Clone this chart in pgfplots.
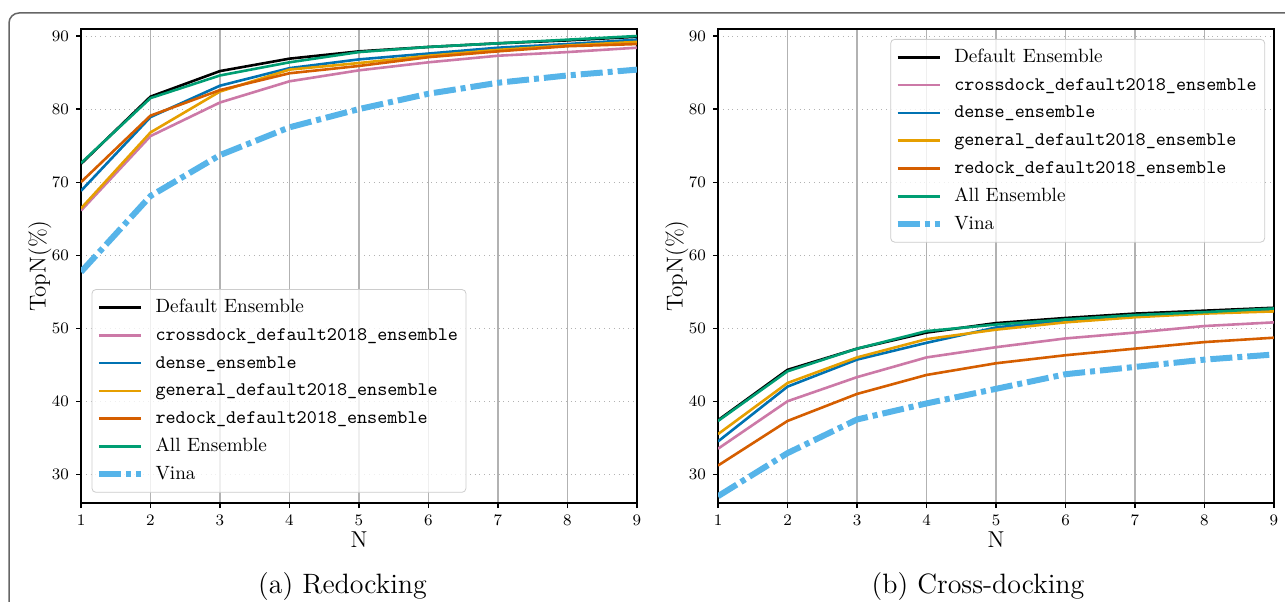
\documentclass[border=0pt]{standalone}
\usepackage{pgfplots}
\usepackage{pgfplotstable}
\pgfplotsset{compat=1.18}
\definecolor{cpink}{HTML}{CC79A7}
\definecolor{cblue}{HTML}{0072B2}
\definecolor{corange}{HTML}{E69F00}
\definecolor{cverm}{HTML}{D55E00}
\definecolor{cgreen}{HTML}{009E73}
\definecolor{csky}{HTML}{56B4E9}
\definecolor{frameg}{HTML}{666666}

\pgfplotstableread{
N def cross dense gen redock all vina
1 72.5 66.1 68.8 66.4 70.0 72.6 57.7
2 81.7 76.3 78.9 76.8 79.1 81.5 68.1
3 85.2 80.9 83.2 82.4 82.6 84.6 73.7
4 86.9 83.8 85.6 85.4 84.9 86.4 77.5
5 87.9 85.3 86.8 86.3 85.9 87.8 80.0
6 88.5 86.4 87.6 87.3 87.1 88.5 82.1
7 89.0 87.3 88.4 88.1 87.9 89.0 83.6
8 89.4 87.8 88.9 88.7 88.6 89.5 84.6
9 89.9 88.4 89.5 89.2 88.9 90.0 85.4
}\redockdata

\pgfplotstableread{
N def cross dense gen redock all vina
1 37.4 33.5 34.5 35.5 31.2 37.3 27.0
2 44.3 40.0 42.0 42.5 37.3 44.1 32.9
3 47.2 43.3 45.7 46.0 41.0 47.2 37.5
4 49.4 46.0 48.0 48.5 43.6 49.6 39.7
5 50.7 47.4 50.1 49.8 45.2 50.5 41.7
6 51.4 48.6 51.1 50.8 46.3 51.2 43.7
7 52.0 49.4 51.7 51.5 47.2 51.8 44.7
8 52.4 50.3 52.1 52.0 48.1 52.2 45.7
9 52.8 50.8 52.5 52.3 48.7 52.7 46.4
}\crossdata

\pgfplotsset{
  mystyle/.style={
    scale only axis, width=278pt, height=237pt,
    xmin=1, xmax=9, ymin=26.07, ymax=90.96,
    xtick={1,2,3,4,5,6,7,8,9}, ytick={30,40,50,60,70,80,90},
    tick align=outside, tick pos=left, major tick length=2.5pt,
    every tick/.style={black, line width=0.6pt},
    axis line style={line width=0.8pt},
    xmajorgrids, ymajorgrids,
    x grid style={black!30, line width=0.6pt},
    y grid style={black!30, dotted, line width=0.5pt},
    ticklabel style={font=\fontsize{8.5}{9.5}\selectfont},
    xlabel={N}, ylabel={TopN(\%)},
    label style={font=\fontsize{11.5}{13}\selectfont},
    xlabel style={at={(axis description cs:0.5,-0.078)}, anchor=center},
    ylabel style={at={(axis description cs:-0.074,0.5)}, anchor=center},
    legend cell align=left,
    legend style={font=\fontsize{9.6}{11}\selectfont, draw=black!20, rounded corners=2pt,
      fill=white, fill opacity=0.8, text opacity=1, inner xsep=2pt, inner ysep=3pt,
      row sep=1.9pt,
      nodes={text height=7pt, text depth=2pt, inner ysep=1.5pt},
      /tikz/every even column/.append style={column sep=2pt},
      /tikz/every odd column/.append style={column sep=3.8pt}},
    legend image code/.code={\draw[#1] (0pt,0pt) -- (21pt,0pt);},
    every axis plot/.append style={line width=1.3pt},
  },
  vinastyle/.style={csky, line width=3pt, dash pattern=on 11pt off 2.5pt on 2.5pt off 2.5pt},
}

\begin{document}
\begin{tikzpicture}
\useasboundingbox (0,0) rectangle (642.5pt,300.5pt);
\clip (0,0) rectangle (642.5pt,300.5pt);
\draw[frameg, line width=0.75pt, rounded corners=5pt] (4.5pt,-20pt) -- (4.5pt,294pt) -- (680pt,294pt);

\begin{axis}[mystyle, at={(40.5pt,49pt)}, anchor=south west,
  legend style={at={(axis description cs:0.019,0.0217)}, anchor=south west}]
\addplot[black] table[x=N, y=def] {\redockdata};
\addplot[cpink] table[x=N, y=cross] {\redockdata};
\addplot[cblue] table[x=N, y=dense] {\redockdata};
\addplot[corange] table[x=N, y=gen] {\redockdata};
\addplot[cverm] table[x=N, y=redock] {\redockdata};
\addplot[cgreen] table[x=N, y=all] {\redockdata};
\addplot[vinastyle] table[x=N, y=vina] {\redockdata};
\legend{Default Ensemble, \texttt{crossdock\_default2018\_ensemble}, \texttt{dense\_ensemble}, \texttt{general\_default2018\_ensemble}, \texttt{redock\_default2018\_ensemble}, All Ensemble, Vina}
\end{axis}

\begin{axis}[mystyle, at={(359pt,49pt)}, anchor=south west,
  legend style={at={(axis description cs:0.984,0.979)}, anchor=north east}]
\addplot[black] table[x=N, y=def] {\crossdata};
\addplot[cpink] table[x=N, y=cross] {\crossdata};
\addplot[cblue] table[x=N, y=dense] {\crossdata};
\addplot[corange] table[x=N, y=gen] {\crossdata};
\addplot[cverm] table[x=N, y=redock] {\crossdata};
\addplot[cgreen] table[x=N, y=all] {\crossdata};
\addplot[vinastyle] table[x=N, y=vina] {\crossdata};
\legend{Default Ensemble, \texttt{crossdock\_default2018\_ensemble}, \texttt{dense\_ensemble}, \texttt{general\_default2018\_ensemble}, \texttt{redock\_default2018\_ensemble}, All Ensemble, Vina}
\end{axis}

\node[anchor=base, font=\fontsize{14}{17}\selectfont] at (171.25pt,4pt) {(a) Redocking};
\node[anchor=base, font=\fontsize{14}{17}\selectfont] at (489pt,4pt) {(b) Cross-docking};
\end{tikzpicture}
\end{document}
